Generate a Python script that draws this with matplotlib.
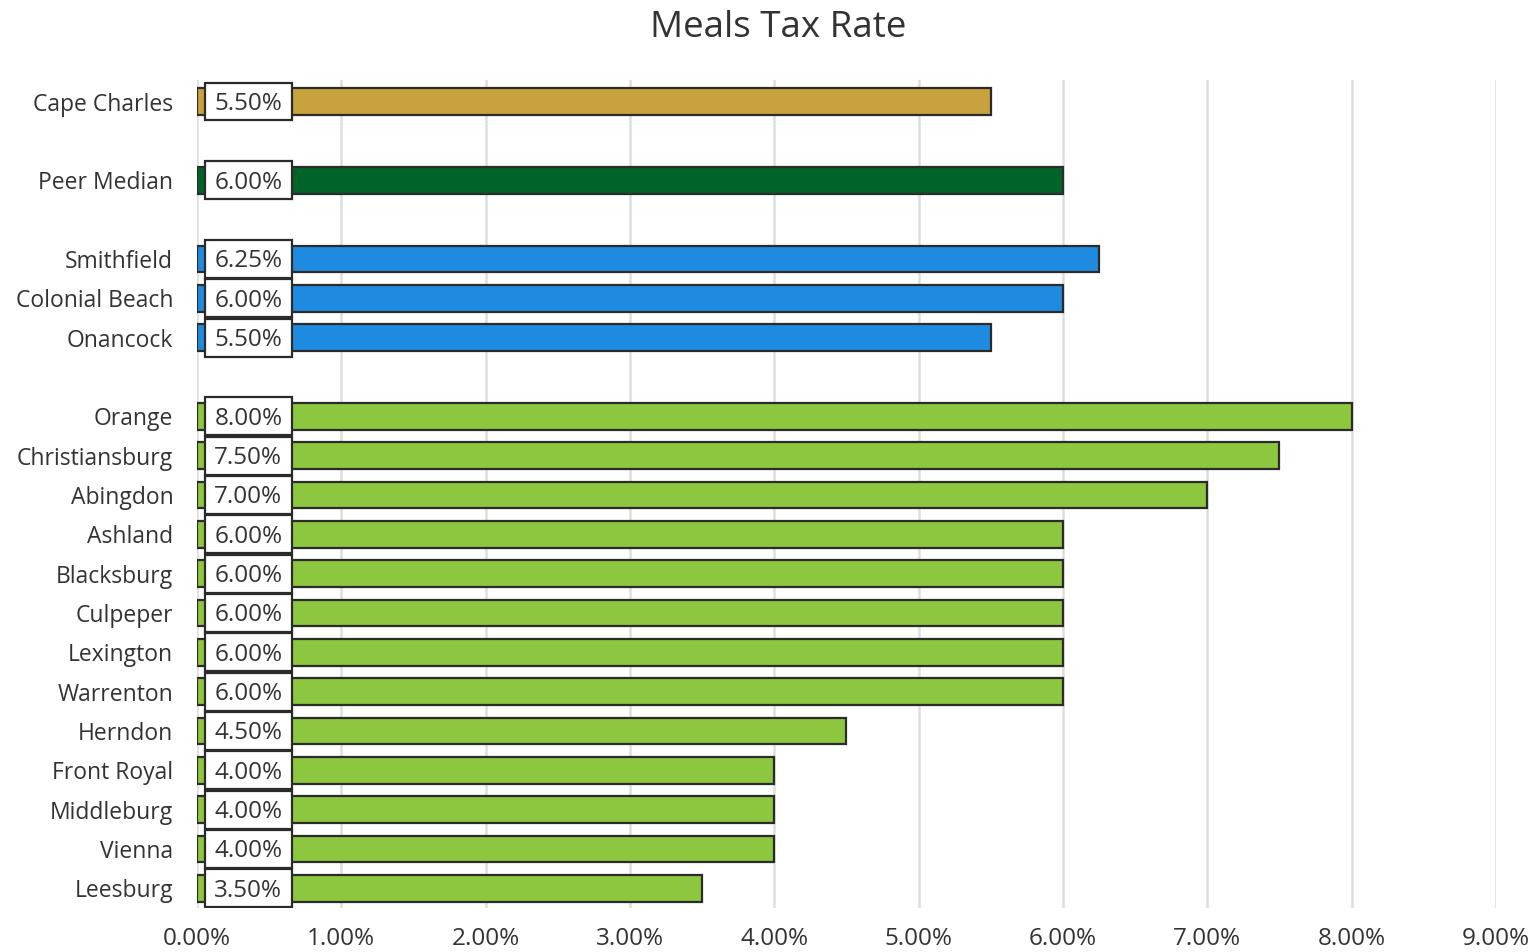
import matplotlib.pyplot as plt
from matplotlib.ticker import FuncFormatter

plt.rcParams['font.family'] = ['Open Sans', 'DejaVu Sans']

# categories top to bottom, blank entries are group spacers
towns = ["Cape Charles", "", "Peer Median", "", "Smithfield", "Colonial Beach", "Onancock", "",
         "Orange", "Christiansburg", "Abingdon", "Ashland", "Blacksburg", "Culpeper",
         "Lexington", "Warrenton", "Herndon", "Front Royal", "Middleburg", "Vienna", "Leesburg"]
rates = [5.5, None, 6.0, None, 6.25, 6.0, 5.5, None,
         8.0, 7.5, 7.0, 6.0, 6.0, 6.0, 6.0, 6.0, 4.5, 4.0, 4.0, 4.0, 3.5]
groups = ["town", None, "median", None, "peer3", "peer3", "peer3", None] + ["peer"] * 13

group_colors = {"town": "#C8A23C", "median": "#006428", "peer3": "#1E8BE0", "peer": "#8DC63F"}
text_col = "#333333"
edge_col = "#2b2b2b"

# value label boxes sit near the base of each bar
box_left, box_width = 0.055, 0.603

fig = plt.figure(figsize=(15.38, 9.52), dpi=100)
ax = fig.add_axes([0.128, 0.0462, 0.8447, 0.8698])

for i, (r, g) in enumerate(zip(rates, groups)):
    if r is None:
        continue
    ax.barh(i, r, height=0.68, color=group_colors[g], edgecolor=edge_col, linewidth=1.6, zorder=3)
    ax.barh(i, box_width, left=box_left, height=0.96, color="white", edgecolor=edge_col,
            linewidth=1.6, zorder=4)
    ax.text(box_left + box_width / 2, i + 0.06, f"{r:.2f}%", ha="center", va="center",
            fontsize=17.5, color=text_col, zorder=5)

ax.set_xlim(0, 9)
ax.set_ylim(20.5, -0.55)
ax.set_xticks(range(0, 10))
ax.xaxis.set_major_formatter(FuncFormatter(lambda v, p: f"{v:.2f}%"))
ax.set_yticks(range(len(towns)))
ax.set_yticklabels(towns)
ax.tick_params(axis="both", length=0, labelcolor=text_col)
ax.tick_params(axis="y", pad=17, labelsize=16.5)
ax.tick_params(axis="x", pad=14, labelsize=17.5)
ax.grid(axis="x", color="#dedede", linewidth=1.8, zorder=0)
ax.set_axisbelow(True)
for s in ax.spines.values():
    s.set_visible(False)

fig.suptitle("Meals Tax Rate", fontsize=26.5, color=text_col, x=0.506, y=0.99, va="top")

fig.savefig("out.png", dpi=100, facecolor="white")
